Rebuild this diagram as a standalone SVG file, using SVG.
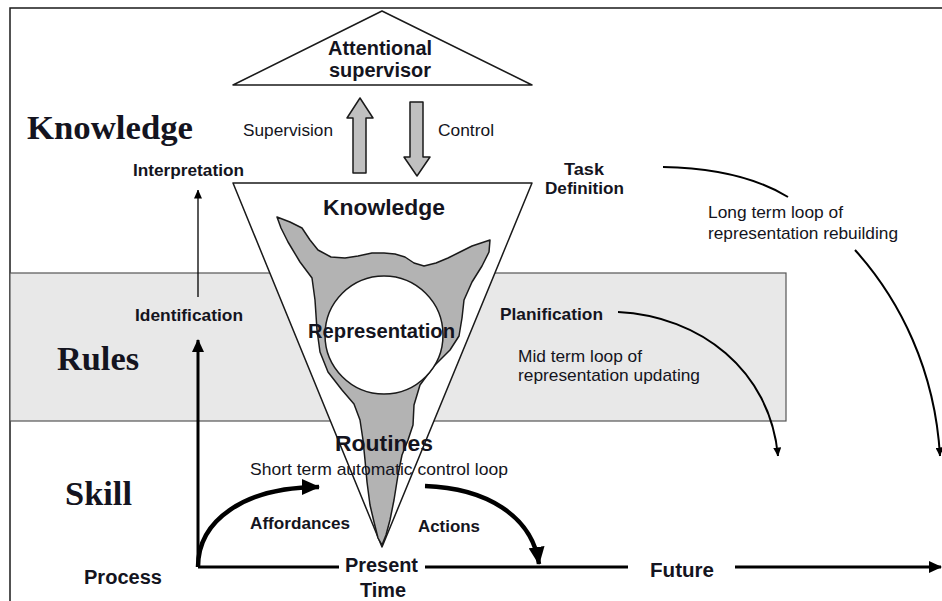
<svg xmlns="http://www.w3.org/2000/svg" width="942" height="601" viewBox="0 0 942 601">
<defs>
<style>
.sans{font-family:"Liberation Sans",Arial,sans-serif;fill:#141420}
.b{font-weight:bold}
.serif{font-family:"Liberation Serif","Times New Roman",serif;font-weight:bold;font-size:34px;fill:#141420}
.f17{font-size:17px}
.f20{font-size:20px}
.f22{font-size:22px}
.shape{stroke:#1a1a1a;stroke-width:1.5;stroke-linejoin:round}
.conn{fill:none;stroke:#000}
</style>
<marker id="big" viewBox="0 0 18 16" refX="17" refY="8" markerWidth="18" markerHeight="16" markerUnits="userSpaceOnUse" orient="auto"><path d="M0,0 L18,8 L0,16 Z" fill="#000"/></marker>
<marker id="mid" viewBox="0 0 13 12" refX="12" refY="6" markerWidth="13" markerHeight="12" markerUnits="userSpaceOnUse" orient="auto"><path d="M0,0 L13,6 L0,12 Z" fill="#000"/></marker>
<marker id="small" viewBox="0 0 9 8" refX="8.5" refY="4" markerWidth="9" markerHeight="8" markerUnits="userSpaceOnUse" orient="auto"><path d="M0,0 L9,4 L0,8 Z" fill="#000"/></marker>
</defs>
<rect width="942" height="601" fill="#fff"/>
<g id="frame">
<path d="M10,601 L10,8 L942,8" fill="none" stroke="#1a1a1a" stroke-width="1.5"/>
</g>
<g id="rules-band">
<rect x="10" y="273" width="776" height="148" fill="#e8e8e8" stroke="#555" stroke-width="1.2"/>
</g>
<g id="attentional-supervisor">
<polygon class="shape" points="382,11 233,85 532,85" fill="#fff"/>
<text class="sans b f20" x="328" y="55" textLength="104" lengthAdjust="spacingAndGlyphs">Attentional</text>
<text class="sans b f20" x="329" y="77" textLength="102" lengthAdjust="spacingAndGlyphs">supervisor</text>
</g>
<g id="supervision-arrow">
<polygon class="shape" points="353,173 353,118 347,118 360,98 373,118 366,118 366,173" fill="#c0c0c0"/>
</g>
<g id="control-arrow">
<polygon class="shape" points="410,102 423,102 423,157 430,157 417,176 404,157 410,157" fill="#c0c0c0"/>
</g>
<g id="funnel">
<polygon class="shape" points="233,183 532,183 382,547" fill="#fff"/>
<path class="shape" fill="#b3b3b3" d="M277,217 L290,222 L302,228 L310,240 L318,250 L331,257 L345,258 L358,256 L372,253 L384,253 L395,254 L405,257 L414,263 L424,266 L436,263 L448,258 L460,252 L472,246 L490,240 L489,252 L482,266 L472,282 L464,300 L462,318 L459,336 L450,350 L434,366 L420,385 L414,405 L413,425 L408,440 L402,455 L398,475 L394,500 L390,520 L386,535 L382,545 L378,538 L374,522 L370,505 L367,482 L365,460 L363,440 L360,420 L354,404 L342,390 L328,372 L320,352 L317,330 L315,300 L312,278 L300,262 L288,242 L281,228 Z"/>
<circle class="shape" cx="384" cy="335" r="59" fill="#fff"/>
<text class="sans b f22" x="323" y="215" textLength="122" lengthAdjust="spacingAndGlyphs">Knowledge</text>
<text class="sans b" font-size="20" x="308" y="338" textLength="147" lengthAdjust="spacingAndGlyphs">Representation</text>
<text class="sans b f22" x="335" y="451" textLength="98" lengthAdjust="spacingAndGlyphs">Routines</text>
</g>
<g id="connectors">
<path class="conn" stroke-width="1.3" d="M198,297 L198,190" marker-end="url(#small)"/>
<path class="conn" stroke-width="3" d="M198,567 L198,340" marker-end="url(#mid)"/>
<path class="conn" stroke-width="3" d="M198,567 L339,567"/>
<path class="conn" stroke-width="3" d="M425,567 L628,567"/>
<path class="conn" stroke-width="3" d="M735,567 L941,567" marker-end="url(#mid)"/>
<path class="conn" stroke-width="4.5" d="M198,567 C198,520 245,487 319,487" marker-end="url(#big)"/>
<path class="conn" stroke-width="4.5" d="M425,486 C485,488 532,515 539,564" marker-end="url(#big)"/>
<path class="conn" stroke-width="2" d="M618,312 C700,316 770,370 778,456" marker-end="url(#small)"/>
<path class="conn" stroke-width="2" d="M663,167 C720,168 760,180 788,197"/>
<path class="conn" stroke-width="2" d="M855,250 C900,300 935,370 940,456" marker-end="url(#small)"/>
</g>
<g id="level-labels">
<text class="serif" x="27" y="139" textLength="166" lengthAdjust="spacingAndGlyphs">Knowledge</text>
<text class="serif" x="57" y="370" textLength="82" lengthAdjust="spacingAndGlyphs">Rules</text>
<text class="serif" x="65" y="505" textLength="67" lengthAdjust="spacingAndGlyphs">Skill</text>
</g>
<g id="labels">
<text class="sans f17" x="243" y="136" textLength="90" lengthAdjust="spacingAndGlyphs">Supervision</text>
<text class="sans f17" x="438" y="136" textLength="56" lengthAdjust="spacingAndGlyphs">Control</text>
<text class="sans b f17" x="133" y="176" textLength="111" lengthAdjust="spacingAndGlyphs">Interpretation</text>
<text class="sans b f17" x="564" y="175" textLength="40" lengthAdjust="spacingAndGlyphs">Task</text>
<text class="sans b f17" x="545" y="194" textLength="79" lengthAdjust="spacingAndGlyphs">Definition</text>
<text class="sans f17" x="708" y="218" textLength="135" lengthAdjust="spacingAndGlyphs">Long term loop of</text>
<text class="sans f17" x="708" y="239" textLength="190" lengthAdjust="spacingAndGlyphs">representation rebuilding</text>
<text class="sans b f17" x="135" y="321" textLength="108" lengthAdjust="spacingAndGlyphs">Identification</text>
<text class="sans b f17" x="500" y="320" textLength="103" lengthAdjust="spacingAndGlyphs">Planification</text>
<text class="sans f17" x="518" y="362" textLength="124" lengthAdjust="spacingAndGlyphs">Mid term loop of</text>
<text class="sans f17" x="518" y="381" textLength="182" lengthAdjust="spacingAndGlyphs">representation updating</text>
<text class="sans f17" x="250" y="475" textLength="258" lengthAdjust="spacingAndGlyphs">Short term automatic control loop</text>
<text class="sans b f17" x="250" y="529" textLength="100" lengthAdjust="spacingAndGlyphs">Affordances</text>
<text class="sans b f17" x="418" y="532" textLength="62" lengthAdjust="spacingAndGlyphs">Actions</text>
<text class="sans b f20" x="84" y="584" textLength="78" lengthAdjust="spacingAndGlyphs">Process</text>
<text class="sans b f20" x="345" y="572" textLength="73" lengthAdjust="spacingAndGlyphs">Present</text>
<text class="sans b f20" x="360" y="597" textLength="46" lengthAdjust="spacingAndGlyphs">Time</text>
<text class="sans b f20" x="650" y="577" textLength="64" lengthAdjust="spacingAndGlyphs">Future</text>
</g>
</svg>
